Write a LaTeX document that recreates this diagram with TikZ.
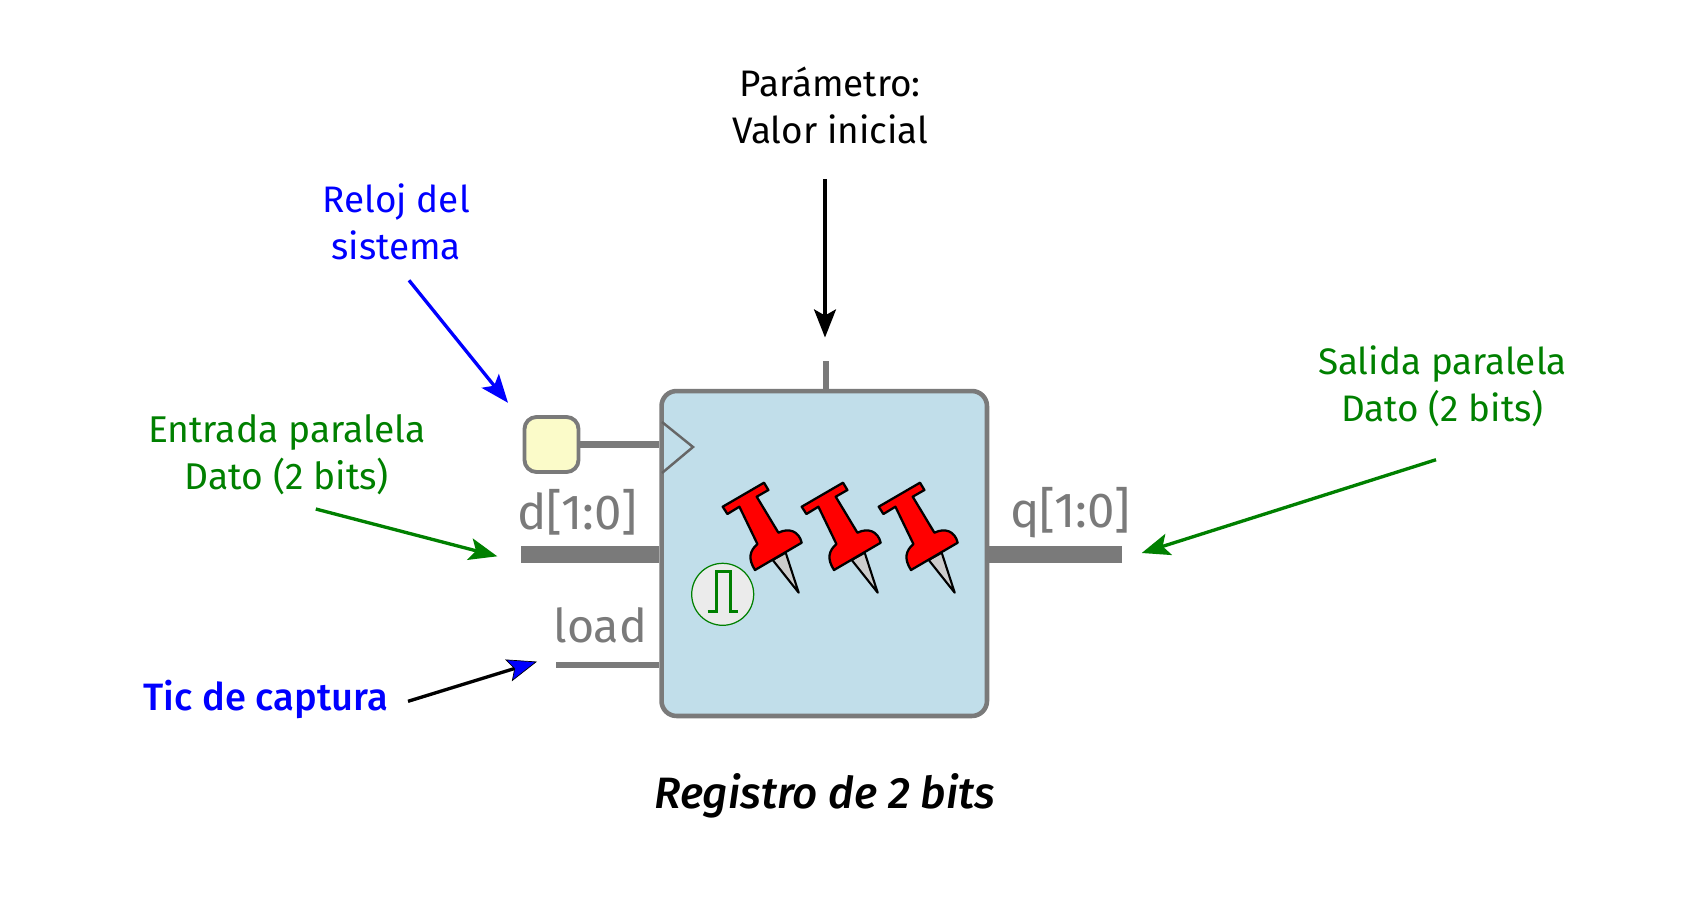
\documentclass[tikz,border=0pt]{standalone}
\usepackage{fontspec}
\setmainfont{Fira Sans}
\usepackage{xcolor}
\usetikzlibrary{arrows.meta}
\definecolor{wiregray}{HTML}{7A7A7A}
\definecolor{regblue}{HTML}{C1DEEA}
\definecolor{clkyellow}{HTML}{FBFBC9}
\definecolor{labgreen}{HTML}{008000}

\tikzset{
  reglabel/.style={font=\fontsize{21}{26.6}\selectfont, align=center, inner sep=0pt},
  portlabel/.style={font=\fontsize{28}{30}\selectfont, text=wiregray, inner sep=0pt},
  callout/.style={line width=1.9pt, ->, >={Stealth[length=16pt,width=12.5pt,inset=3.5pt]}},
  wire/.style={draw=wiregray, line width=3.9pt},
  buswire/.style={draw=wiregray, line width=9.5pt},
  pics/redpin/.style={code={
    \draw [fill=black!20, line width=1.2pt, line join=round] (50,77.3) -- (63,70) -- (76,110) -- cycle;
    \draw [fill=red, line width=1.3pt, line join=round] (0,24) -- (41.3,0) -- (45.7,7.3) -- (34,14) -- (55.7,50)
      .. controls (66,45) and (76,48) .. (79,60) -- (32.3,87.3)
      .. controls (25,76) and (27,68) .. (34.7,61.3) -- (16.7,24) -- (4.7,31.3) -- cycle;
  }}
}

\begin{document}
\begin{tikzpicture}[x=0.02cm,y=-0.02cm]
\useasboundingbox (0,0) rectangle (1683,903);

% the register
\node (reg) [draw=wiregray, fill=regblue, line width=2.6pt, rounded corners=0.3cm, inner sep=0pt,
  minimum width=6.51cm, minimum height=6.5cm] at (824.25,553.5) {};
\draw [draw=black!60, line width=1.4pt] (662,422) -- (693,447) -- (662,473);

% clock input
\node (clk) [draw=wiregray, fill=clkyellow, line width=2.2pt, rounded corners=0.24cm, inner sep=0pt,
  minimum width=1.08cm, minimum height=1.1cm] at (551.5,444.5) {};
\draw [wire] (clk.east) -- (clk.east -| reg.west);

% ports
\coordinate (dend) at (521,554.5);
\coordinate (qend) at (1122,554.5);
\coordinate (loadend) at (556,665);
\coordinate (paramend) at (826,361);
\draw [buswire] (dend) -- (dend -| reg.west);
\draw [buswire] (qend) -- (qend -| reg.east);
\draw [wire] (loadend) -- (loadend -| reg.west);
\draw [wire] (paramend) -- (paramend |- reg.north);

\node (dlabel) [portlabel] at (577.3,512.5) {d[1:0]};
\node (qlabel) [portlabel] at (1070.3,512.5) {q[1:0]};
\node (loadlabel) [portlabel, font=\fontsize{26.5}{30}\selectfont] at (600.4,625.5) {load};

% pins
\pic at (722.7,482.7) {redpin};
\pic at (801.7,482.7) {redpin};
\pic at (878.7,482.7) {redpin};

% load pulse
\node (pulse) [circle, draw=labgreen, fill=black!8, line width=0.7pt, inner sep=0pt, minimum size=1.24cm] at (722.7,594.3) {};
\draw [labgreen, line width=1.7pt] (707.7,611.7) -- (716,611.7) -- (716,571.7) -- (730,571.7) -- (730,611.7) -- (737.7,611.7);

% labels
\node (param) [reglabel] at (830.2,105.5) {Parámetro:\\Valor inicial};
\node (clklabel) [reglabel, text=blue] at (396.3,221.5) {Reloj del\\sistema};
\node (dinlabel) [reglabel, text=labgreen, font=\fontsize{21.2}{26.6}\selectfont] at (286.8,454.5) {Entrada paralela\\Dato (2 bits)};
\node (qoutlabel) [reglabel, text=labgreen] at (1442.4,386.5) {Salida paralela\\Dato (2 bits)};
\node (ticlabel) [reglabel, text=blue, font=\fontsize{21.7}{26.6}\selectfont\fontspec{Fira Sans Medium}] at (265.8,699) {Tic de captura};
\node (title) [reglabel, font=\fontsize{25}{30}\selectfont\fontspec{Fira Sans Medium Italic}] at (824.8,796) {Registro de 2 bits};

% arrows
\coordinate (paramfrom) at (825,179.4);
\coordinate (paramto) at (825,337.5);
\coordinate (clkfrom) at (409,280.3);
\coordinate (clkto) at (508,402.8);
\coordinate (dinfrom) at (315.8,509);
\coordinate (dinto) at (497.3,556.3);
\coordinate (qoutfrom) at (1436,459.7);
\coordinate (qoutto) at (1141.7,553);
\coordinate (ticfrom) at (408,701.3);
\coordinate (ticto) at (537,661.6);
\draw [callout] (paramfrom) -- (paramto);
\draw [callout, blue] (clkfrom) -- (clkto);
\draw [callout, labgreen] (dinfrom) -- (dinto);
\draw [callout, labgreen] (qoutfrom) -- (qoutto);
\draw [callout, >={Stealth[length=17pt,width=13pt,inset=3.5pt,fill=blue,line width=0.4pt]}] (ticfrom) -- (ticto);
\end{tikzpicture}
\end{document}
